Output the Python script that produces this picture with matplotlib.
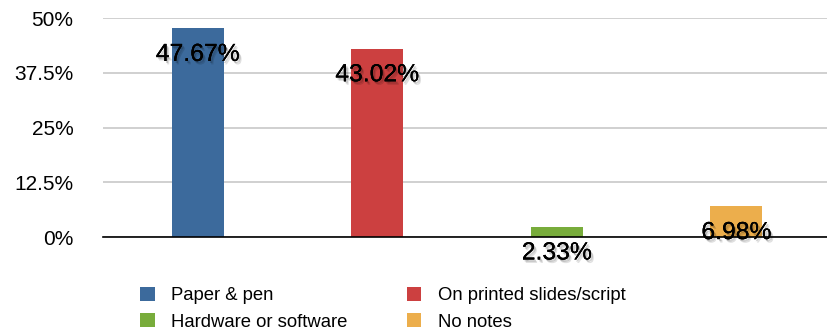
import matplotlib
matplotlib.use("Agg")
import matplotlib.pyplot as plt
import matplotlib.patheffects as pe
from matplotlib.patches import Patch

categories = ["Paper & pen", "On printed slides/script", "Hardware or software", "No notes"]
values = [47.67, 43.02, 2.33, 6.98]
colors = ["#3C6A9C", "#CC4040", "#78AC3B", "#ECAE4C"]
yticks = [0, 12.5, 25, 37.5, 50]
ytick_labels = ["0%", "12.5%", "25%", "37.5%", "50%"]

plt.rcParams['font.family'] = ['Liberation Sans', 'DejaVu Sans']

fig = plt.figure(figsize=(8.28, 3.35), dpi=100)
ax = fig.add_axes([0.124, 0.2925, 0.876, 0.6535])

x = list(range(len(categories)))
ax.bar(x, values, width=0.29, color=colors, zorder=3)
ax.set_xlim(-0.53, 3.51)
ax.set_ylim(0, 50)
ax.set_yticks(yticks)
ax.set_yticklabels(ytick_labels, fontsize=15)
ax.set_xticks([])
ax.tick_params(axis='y', length=0, pad=21)
ax.yaxis.grid(True, color="#C8C8C8", linewidth=1.2, zorder=0)
for s in ["top", "right", "left"]:
    ax.spines[s].set_visible(False)
ax.spines["bottom"].set_color("black")
ax.spines["bottom"].set_linewidth(1.2)
ax.spines["bottom"].set_zorder(4)

shadow = [pe.withSimplePatchShadow(offset=(2, -2.5), shadow_rgbFace="black", alpha=0.12),
          pe.withSimplePatchShadow(offset=(1.2, -1.5), shadow_rgbFace="black", alpha=0.18),
          pe.Normal()]
for xi, v in zip(x, values):
    ax.annotate(f"{v:.2f}%", xy=(xi, v), xytext=(0, -23.5), textcoords="offset points",
                ha="center", va="baseline", fontsize=17.8, color="black", zorder=5,
                path_effects=shadow)

order = [0, 2, 1, 3]
handles = [Patch(facecolor=colors[i], edgecolor="none") for i in order]
labels = [categories[i] for i in order]
fig.legend(handles, labels, ncol=2, loc="center", bbox_to_anchor=(0.4626, 0.078), frameon=False,
           fontsize=13.3, handlelength=0.78, handleheight=0.78, columnspacing=3.2, labelspacing=0.5,
           handletextpad=0.9)

fig.savefig("out.png", dpi=100)
